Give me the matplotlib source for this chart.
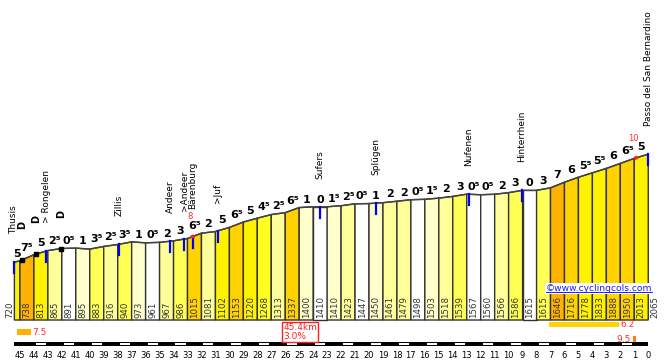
import numpy as np
import matplotlib
matplotlib.use("Agg")
import matplotlib.pyplot as plt

# km to the summit at each profile point and the altitude there (m)
km = [45.4] + list(range(45, -1, -1))
alt = [720, 738, 813, 865, 891, 895, 883, 916, 940, 973, 961, 967, 986, 1015,
       1081, 1102, 1153, 1220, 1268, 1313, 1337, 1400, 1410, 1410, 1423, 1447,
       1450, 1461, 1479, 1498, 1503, 1518, 1539, 1567, 1560, 1566, 1586, 1615,
       1615, 1646, 1716, 1778, 1833, 1888, 1950, 2013, 2065]
# gradient written above each segment (%)
grade = [5, 7.5, 5, 2.5, 0.5, 1, 3.5, 2.5, 3.5, 1, 0.5, 2, 3, 6.5, 2, 5, 6.5,
         5, 4.5, 2.5, 6.5, 1, 0, 1.5, 2.5, 0.5, 1, 2, 2, 0.5, 1.5, 2, 3, 0.5,
         0.5, 2, 3, 0, 3, 7, 6, 5.5, 5.5, 6, 6.5, 5]

towns = ["Thusis", "> Rongelen", "Zillis", "Andeer", ">Andeer", "Bärenburg",
         ">Juf", "Sufers", "Splügen", "Nufenen", "Hinterrhein",
         "Passo del San Bernardino"]
town_km = [45.4, 43.1, 37.9, 34.25, 33.25, 32.63, 30.85, 23.5, 19.5, 12.85,
           9.05, 0]
tunnel_km = [44.86, 43.85, 42.08]
maxgrad_km = [32.63, 0.87]
maxgrad_val = ["8", "10"]

total_km = 45.4
avg_grade = 3.0
# steepest stretches: (from km, to km, gradient)
steep_1km = (45.2, 44.2, 7.5)
steep_5km = (7.1, 2.1, 6.2)
steep_200m = (1.07, 0.87, 9.5)

colors = {0: "#FFFFFF", 1: "#FFFFCC", 2: "#FFFF99", 3: "#FFFF55",
          4: "#FFFF22", 5: "#FFF200", 6: "#FFD200", 7: "#FFB300"}

PX = 12.45  # metres per pixel in the vertical direction


def prof(k):
    return np.interp(-np.asarray(k, float), -np.array(km, float), alt)


def glabel(g):
    s = str(int(g))
    if g != int(g):
        s += "\u2075"
    return s


fig = plt.figure(figsize=(6.65, 3.6), dpi=100)
ax = fig.add_axes([0, 0, 1, 1])
ax.set_xlim(46.43, -1.2)
ax.set_ylim(-498, 3985)
ax.axis("off")

# coloured segments
for i in range(len(grade)):
    x0, x1 = km[i], km[i + 1]
    a0, a1 = alt[i], alt[i + 1]
    c = colors[min(int(grade[i]), 7)]
    ax.fill([x0, x0, x1, x1], [0, a0, a1, 0], facecolor=c,
            edgecolor="#333333", lw=1.0, zorder=2)
    ax.annotate(glabel(grade[i]), ((x0 + x1) / 2, max(a0, a1)),
                xytext=(0, 1.5), textcoords="offset points", ha="center",
                va="bottom", fontsize=8, fontweight="bold", zorder=5)
    if i > 0:
        ax.text((x0 + x1) / 2, 30, str(a0), rotation=90, ha="center",
                va="bottom", fontsize=6.2, color="#333333", zorder=4)
ax.plot(km, alt, color="#444444", lw=1.0, zorder=3)
ax.text(km[0] + 0.33, 30, str(alt[0]), rotation=90, ha="center",
        va="bottom", fontsize=6.2, color="#333333")
ax.text(km[-1] - 0.5, 30, str(alt[-1]), rotation=90, ha="center",
        va="bottom", fontsize=6.2, color="#333333")

# towns
for name, k in zip(towns, town_km):
    a = prof(k)
    ax.plot([k, k], [a, a - 11 * PX], color="#0000FF", lw=1.6, zorder=4)
    dx = 0.07 if k == km[0] else 0
    ax.text(k + dx, a + 28 * PX, name, rotation=90, ha="center", va="bottom",
            fontsize=6.5)

# tunnels
for k in tunnel_km:
    a = prof(k)
    ax.plot(k, a, "s", color="black", ms=3, zorder=5)
    ax.text(k, a + 31 * PX, "D", rotation=90, ha="center", va="bottom",
            fontsize=7, fontweight="bold")

# steepest 100 m
for k, v in zip(maxgrad_km, maxgrad_val):
    a = prof(k)
    ax.plot([k + 0.12, k - 0.12], prof([k + 0.12, k - 0.12]),
            color="#FF2020", lw=2.5, zorder=4, solid_capstyle="butt")
    ax.annotate(v, (k, a), xytext=(-2, 11), textcoords="offset points",
                ha="center", va="bottom", fontsize=6, color="#FF3030")

# steepest stretches under the profile
for (k0, k1, g), c, y0, y1, side in [
        (steep_1km, "#FFB300", -187, -112, "right"),
        (steep_5km, "#FFD200", -87, -25, "right"),
        (steep_200m, "#FF7F00", -274, -199, "left")]:
    ax.fill([k0, k0, k1, k1], [y0, y1, y1, y0], color=c, lw=0)
    if side == "right":
        ax.text(k1 - 0.1, (y0 + y1) / 2, f"{g}", ha="left", va="center",
                fontsize=6.5, color="#FF3030")
    else:
        ax.text(k0 + 0.15, (y0 + y1) / 2, f"{g}", ha="right", va="center",
                fontsize=6.5, color="#FF3030")

ax.text(26.15, -150, f"{total_km}km\n{avg_grade:.1f}%", ha="left",
        va="center", fontsize=6.5, color="#FF2020", linespacing=1.0,
        bbox=dict(boxstyle="square,pad=0.15", fc="white", ec="#FF2020",
                  lw=1.0))

# km scale
ax.fill([km[0], km[0], 0, 0], [-328, -278, -278, -328], color="black", lw=0)
for k in range(44, 0, -2):
    ax.fill([k - 0.14, k - 0.14, k - 0.86, k - 0.86],
            [-311, -291, -291, -311], color="white", lw=0)
for k in range(45, -1, -1):
    ax.text(k, -436, str(k), ha="center", va="center", fontsize=6)

ax.text(-0.3, 392, "\u00a9www.cyclingcols.com", ha="right", va="center",
        fontsize=6.6, color="#1a1aff", zorder=6,
        bbox=dict(boxstyle="square,pad=0.1", fc="white", ec="none"))
ax.plot([7.35, -0.3], [345, 345], color="#1a1aff", lw=0.7, zorder=7)

fig.savefig("out.png", dpi=100)
